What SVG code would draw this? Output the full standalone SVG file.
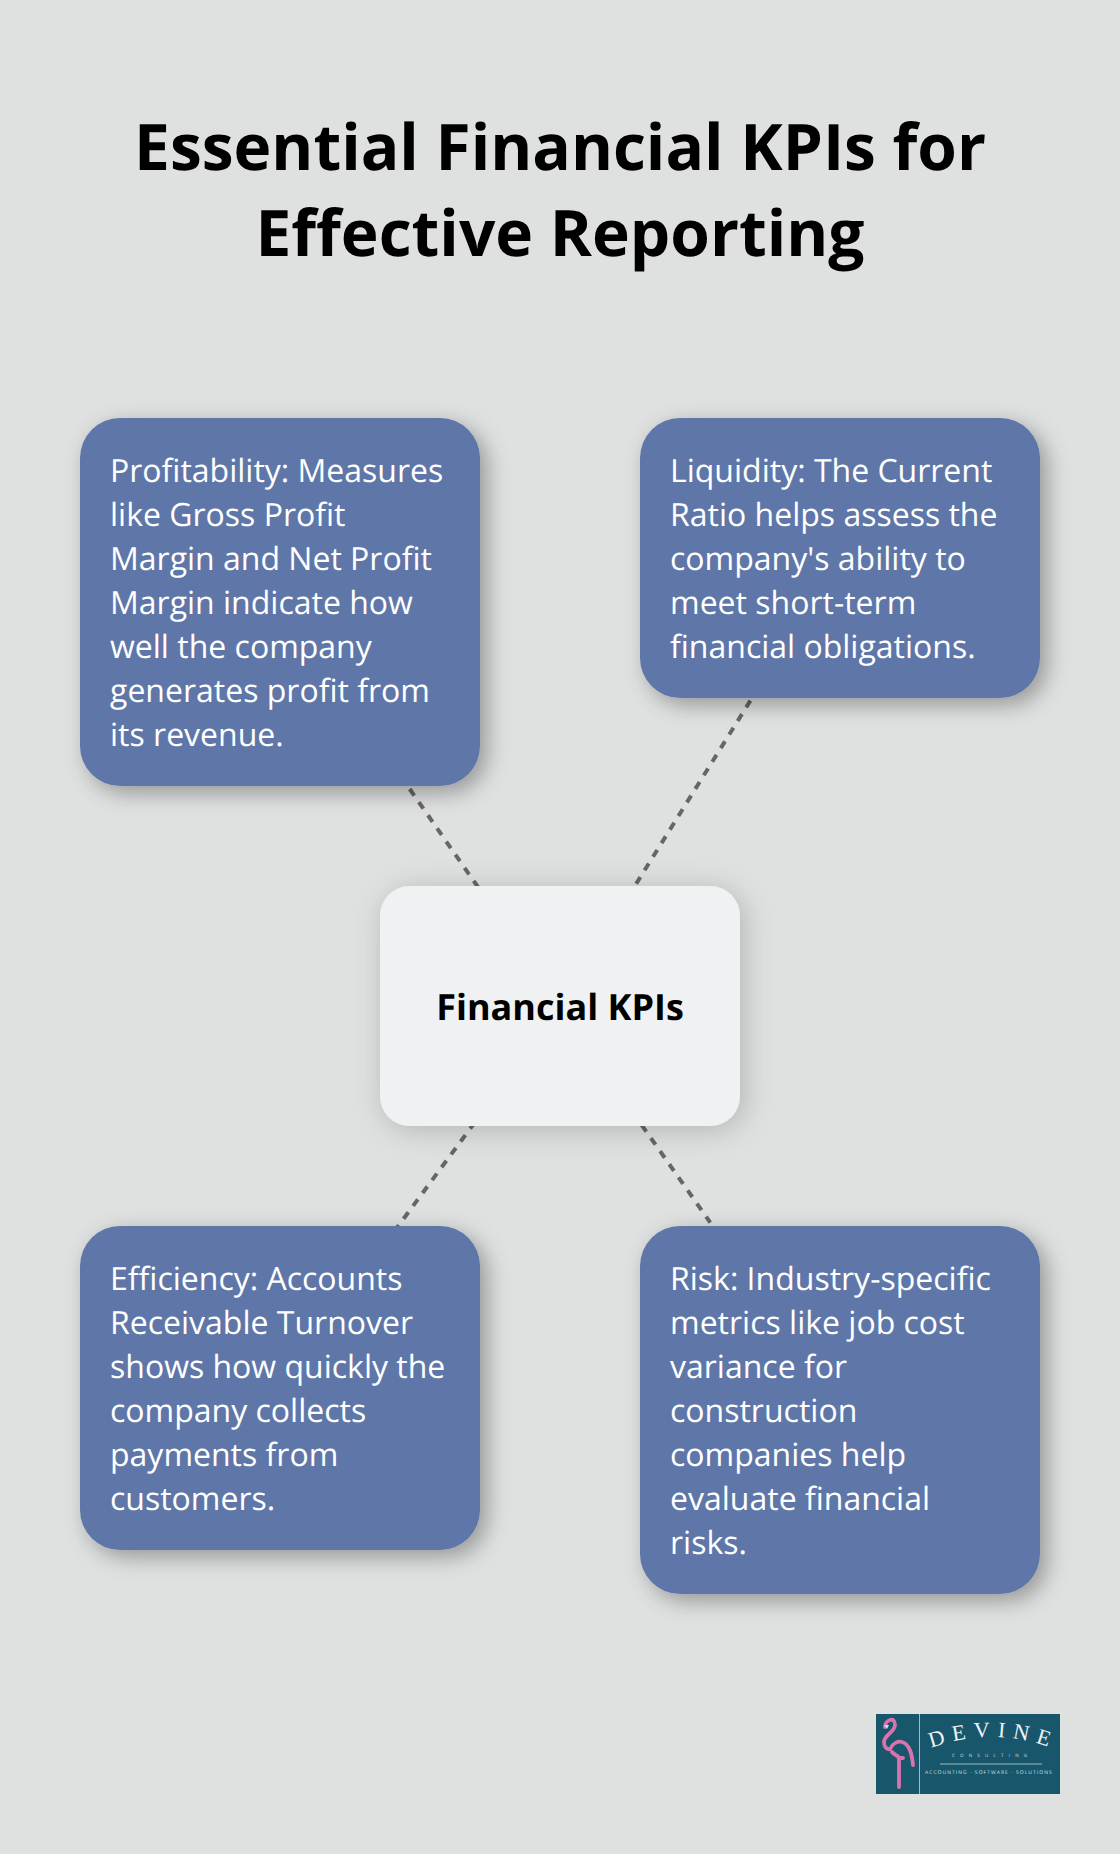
<svg xmlns="http://www.w3.org/2000/svg" width="1120" height="1854" viewBox="0 0 1120 1854">
<style>
text{font-family:"Open Sans","Noto Sans","Liberation Sans",sans-serif;text-rendering:geometricPrecision}
.t{font-size:64px;font-weight:700;fill:#000;text-anchor:middle}
.b{font-size:32px;fill:#fff}
.c{font-size:36px;font-weight:700;fill:#000;text-anchor:middle}
.n{fill:#5e77a8;filter:url(#s)}
.l{stroke:#666;stroke-width:4;stroke-dasharray:8 8;fill:none}
</style>
<defs>
<filter id="s" x="-20%" y="-20%" width="150%" height="150%"><feDropShadow dx="7" dy="7" stdDeviation="11" flood-color="#000" flood-opacity=".33"/></filter>
<filter id="s2" x="-30%" y="-30%" width="160%" height="160%"><feDropShadow dx="4" dy="4" stdDeviation="15" flood-color="#000" flood-opacity=".2"/></filter>
<path id="arc" d="M931 1748Q990 1726 1052 1748"/>
</defs>
<rect width="1120" height="1854" fill="#dfe1e0"/>
<g id="title"><text class="t" x="560" y="170">Essential Financial KPIs for</text><text class="t" x="560" y="256">Effective Reporting</text></g>
<g id="connectors">
<line class="l" x1="409.700" y1="789" x2="478.600" y2="888"/>
<line class="l" x1="750.400" y1="700.600" x2="636.200" y2="883.700"/>
<line class="l" x1="474.900" y1="1122.200" x2="396" y2="1229"/>
<line class="l" x1="641.700" y1="1125" x2="710.300" y2="1222.600"/>
</g>
<g id="node-profitability"><rect class="n" x="80" y="418" width="400" height="368" rx="40"/>
<text class="b" x="110" y="482">Profitability: Measures</text><text class="b" x="110" y="526">like Gross Profit</text><text class="b" x="110" y="570">Margin and Net Profit</text><text class="b" x="110" y="614">Margin indicate how</text><text class="b" x="110" y="658">well the company</text><text class="b" x="110" y="702">generates profit from</text><text class="b" x="110" y="746">its revenue.</text></g>
<g id="node-liquidity"><rect class="n" x="640" y="418" width="400" height="280" rx="40"/>
<text class="b" x="670" y="482">Liquidity: The Current</text><text class="b" x="670" y="526">Ratio helps assess the</text><text class="b" x="670" y="570">company's ability to</text><text class="b" x="670" y="614">meet short-term</text><text class="b" x="670" y="658">financial obligations.</text></g>
<g id="node-center"><rect x="380" y="886" width="360" height="240" rx="30" fill="#eff1f3" filter="url(#s2)"/><text class="c" x="560" y="1020">Financial KPIs</text></g>
<g id="node-efficiency"><rect class="n" x="80" y="1226" width="400" height="324" rx="40"/>
<text class="b" x="110" y="1290">Efficiency: Accounts</text><text class="b" x="110" y="1334">Receivable Turnover</text><text class="b" x="110" y="1378">shows how quickly the</text><text class="b" x="110" y="1422">company collects</text><text class="b" x="110" y="1466">payments from</text><text class="b" x="110" y="1510">customers.</text></g>
<g id="node-risk"><rect class="n" x="640" y="1226" width="400" height="368" rx="40"/>
<text class="b" x="670" y="1290">Risk: Industry-specific</text><text class="b" x="670" y="1334">metrics like job cost</text><text class="b" x="670" y="1378">variance for</text><text class="b" x="670" y="1422">construction</text><text class="b" x="670" y="1466">companies help</text><text class="b" x="670" y="1510">evaluate financial</text><text class="b" x="670" y="1554">risks.</text></g>
<g id="logo">
<rect x="876" y="1714" width="184" height="80" fill="#17566b"/>
<line x1="919.500" y1="1714" x2="919.500" y2="1794" stroke="#9dbcc4" stroke-width="1"/>
<path d="M885 1727C885 1720 895 1716 895 1725C895 1732 884 1735 884 1742C884 1747 887 1750 890 1749C893 1743 898 1741 902 1742C910 1744 912 1755 913 1765M892 1752C895 1756 899 1755 899 1759L899 1787M899 1758L903 1758" fill="none" stroke="#d873ae" stroke-width="3.800" stroke-linecap="round" stroke-linejoin="round"/>
<path d="M884 1725l5 0l-2 4z" fill="#bfe3ec"/>
<text style="font-family:'Liberation Serif',serif" font-size="22" fill="#eef4f5" letter-spacing="7.500"><textPath href="#arc">DEVINE</textPath></text>
<text x="952" y="1757" font-size="4.500" fill="#cfe0e4" letter-spacing="5.200">CONSULTING</text>
<line x1="940" y1="1764" x2="1042" y2="1764" stroke="#9dbcc4" stroke-width="1"/>
<text x="925" y="1774" font-size="5" fill="#dbe7ea" letter-spacing="1.050">ACCOUNTING · SOFTWARE · SOLUTIONS</text>
</g>
</svg>
